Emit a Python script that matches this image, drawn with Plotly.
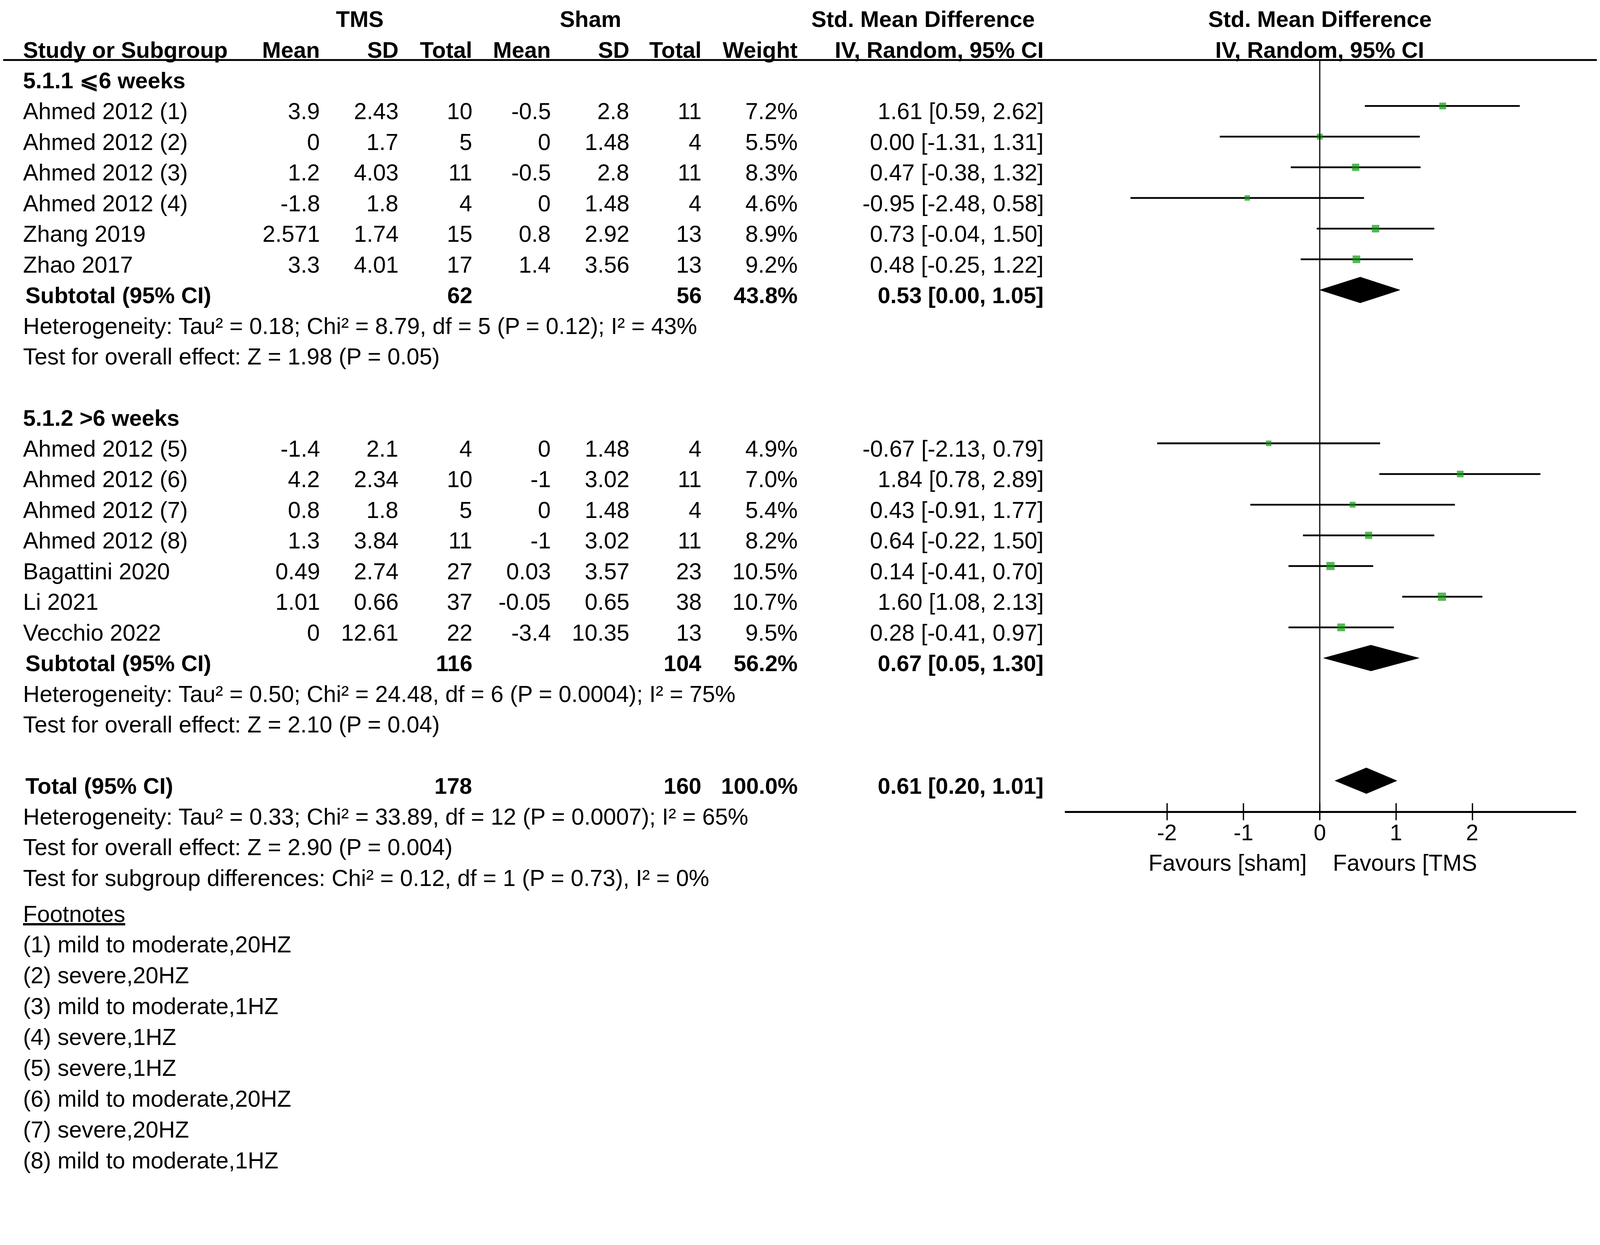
import math
import plotly.graph_objects as go

# ---------------- data ----------------
g1_study = ["Ahmed 2012 (1)", "Ahmed 2012 (2)", "Ahmed 2012 (3)", "Ahmed 2012 (4)", "Zhang 2019", "Zhao 2017"]
g1_tms_mean = [3.9, 0, 1.2, -1.8, 2.571, 3.3]
g1_tms_sd = [2.43, 1.7, 4.03, 1.8, 1.74, 4.01]
g1_tms_n = [10, 5, 11, 4, 15, 17]
g1_sham_mean = [-0.5, 0, -0.5, 0, 0.8, 1.4]
g1_sham_sd = [2.8, 1.48, 2.8, 1.48, 2.92, 3.56]
g1_sham_n = [11, 4, 11, 4, 13, 13]
g1_weight = [7.2, 5.5, 8.3, 4.6, 8.9, 9.2]
g1_smd = [1.61, 0.00, 0.47, -0.95, 0.73, 0.48]
g1_lo = [0.59, -1.31, -0.38, -2.48, -0.04, -0.25]
g1_hi = [2.62, 1.31, 1.32, 0.58, 1.50, 1.22]

g2_study = ["Ahmed 2012 (5)", "Ahmed 2012 (6)", "Ahmed 2012 (7)", "Ahmed 2012 (8)",
            "Bagattini 2020", "Li 2021", "Vecchio 2022"]
g2_tms_mean = [-1.4, 4.2, 0.8, 1.3, 0.49, 1.01, 0]
g2_tms_sd = [2.1, 2.34, 1.8, 3.84, 2.74, 0.66, 12.61]
g2_tms_n = [4, 10, 5, 11, 27, 37, 22]
g2_sham_mean = [0, -1, 0, -1, 0.03, -0.05, -3.4]
g2_sham_sd = [1.48, 3.02, 1.48, 3.02, 3.57, 0.65, 10.35]
g2_sham_n = [4, 11, 4, 11, 23, 38, 13]
g2_weight = [4.9, 7.0, 5.4, 8.2, 10.5, 10.7, 9.5]
g2_smd = [-0.67, 1.84, 0.43, 0.64, 0.14, 1.60, 0.28]
g2_lo = [-2.13, 0.78, -0.91, -0.22, -0.41, 1.08, -0.41]
g2_hi = [0.79, 2.89, 1.77, 1.50, 0.70, 2.13, 0.97]

subgroup_names = ["5.1.1 ⩽6 weeks", "5.1.2 >6 weeks"]
subtotal_tms_n = [62, 116]
subtotal_sham_n = [56, 104]
subtotal_weight = [43.8, 56.2]
subtotal_smd = [0.53, 0.67]
subtotal_lo = [0.00, 0.05]
subtotal_hi = [1.05, 1.30]
subgroup_het = ["Heterogeneity: Tau² = 0.18; Chi² = 8.79, df = 5 (P = 0.12); I² = 43%",
                "Heterogeneity: Tau² = 0.50; Chi² = 24.48, df = 6 (P = 0.0004); I² = 75%"]
subgroup_test = ["Test for overall effect: Z = 1.98 (P = 0.05)",
                 "Test for overall effect: Z = 2.10 (P = 0.04)"]

total_tms_n = 178
total_sham_n = 160
total_weight = 100.0
total_smd = 0.61
total_lo = 0.20
total_hi = 1.01
total_lines = ["Heterogeneity: Tau² = 0.33; Chi² = 33.89, df = 12 (P = 0.0007); I² = 65%",
               "Test for overall effect: Z = 2.90 (P = 0.004)",
               "Test for subgroup differences: Chi² = 0.12, df = 1 (P = 0.73), I² = 0%"]

footnotes = ["(1) mild to moderate,20HZ", "(2) severe,20HZ", "(3) mild to moderate,1HZ",
             "(4) severe,1HZ", "(5) severe,1HZ", "(6) mild to moderate,20HZ",
             "(7) severe,20HZ", "(8) mild to moderate,1HZ"]

header_top = ["TMS", "Sham", "Std. Mean Difference"]
header_cols = ["Study or Subgroup", "Mean", "SD", "Total", "Mean", "SD", "Total", "Weight",
               "IV, Random, 95% CI"]
axis_ticks = [-2, -1, 0, 1, 2]
favours = ["Favours [sham]", "Favours [TMS"]

# ---------------- layout constants ----------------
# layout is designed in reference-image pixels and converted to page pixels
S = 4317 / 4096.0      # screenshot px per CSS px
BODY = 8               # default page margin (CSS px)
FW, FH = 4080, 3008    # figure size in CSS px


def R(v):               # reference position -> figure position
    return v / S - BODY


def Z(v):               # reference size -> figure size
    return v / S


ROW0, STEP = 51.7, 82.75          # reference pixel centre of row 0 and row spacing
FONT = "Liberation Sans, Arial, sans-serif"
FS = Z(62)
FSB = Z(61)
GREEN = "#0f9a0f"


def px(x):
    return R(x) / FW


def ref_row(y):
    return (y - ROW0) / STEP


Y_TOP = ref_row(S * BODY)
Y_BOT = ref_row(S * (FH + BODY))
AXIS_Y = 2190
AXIS_ROW = ref_row(AXIS_Y)
HEADER_LINE_ROW = ref_row(162)
MARK_OFF = -0.17
DIAMOND_H = 0.42

COL_X = {"study": px(60), "m1": px(865), "sd1": px(1077), "n1": px(1276),
         "m2": px(1488), "sd2": px(1700), "n2": px(1895), "w": px(2154), "ci": px(2818)}

ann = []


def txt(x, row, s, anchor="right", bold=False, xref="paper", size=None, xshift=0):
    if size is None:
        size = FSB if bold else FS
    ann.append(dict(x=x, y=row, xref=xref, yref="y", text=("<b>%s</b>" % s) if bold else s,
                    xanchor=anchor, yanchor="middle", showarrow=False, xshift=xshift,
                    font=dict(family=FONT, size=size, color="#000")))


def num(v):
    return str(v)


def ci_text(e, lo, hi):
    return "%.2f [%.2f, %.2f]" % (e, lo, hi)


# header rows
txt(px(971), 0, header_top[0], "center", True)
txt(px(1594), 0, header_top[1], "center", True)
txt(px(2491), 0, header_top[2], "center", True)
txt(0, 0, header_top[2], "center", True, xref="x")
txt(COL_X["study"], 1, header_cols[0], "left", True)
for key, lab in zip(["m1", "sd1", "n1", "m2", "sd2", "n2", "w", "ci"], header_cols[1:]):
    txt(COL_X[key], 1, lab, "right", True)
txt(0, 1, header_cols[8], "center", True, xref="x")

groups = [
    (g1_study, g1_tms_mean, g1_tms_sd, g1_tms_n, g1_sham_mean, g1_sham_sd, g1_sham_n,
     g1_weight, g1_smd, g1_lo, g1_hi),
    (g2_study, g2_tms_mean, g2_tms_sd, g2_tms_n, g2_sham_mean, g2_sham_sd, g2_sham_n,
     g2_weight, g2_smd, g2_lo, g2_hi),
]

ci_x, ci_y = [], []
mk_x, mk_y, mk_s = [], [], []
diamonds = []

row = 2
for gi, g in enumerate(groups):
    st, m1, s1, n1, m2, s2, n2, w, e, lo, hi = g
    txt(COL_X["study"], row, subgroup_names[gi], "left", True)
    row += 1
    for i in range(len(st)):
        txt(COL_X["study"], row, st[i], "left")
        txt(COL_X["m1"], row, num(m1[i]))
        txt(COL_X["sd1"], row, num(s1[i]))
        txt(COL_X["n1"], row, num(n1[i]))
        txt(COL_X["m2"], row, num(m2[i]))
        txt(COL_X["sd2"], row, num(s2[i]))
        txt(COL_X["n2"], row, num(n2[i]))
        txt(COL_X["w"], row, "%.1f%%" % w[i])
        txt(COL_X["ci"], row, ci_text(e[i], lo[i], hi[i]))
        ci_x += [lo[i], hi[i], None]
        ci_y += [row + MARK_OFF, row + MARK_OFF, None]
        mk_x.append(e[i])
        mk_y.append(row + MARK_OFF)
        mk_s.append(Z(6.8 * math.sqrt(w[i])))
        row += 1
    txt(COL_X["study"], row, "Subtotal (95% CI)", "left", True, xshift=Z(6))
    txt(COL_X["n1"], row, num(subtotal_tms_n[gi]), bold=True)
    txt(COL_X["n2"], row, num(subtotal_sham_n[gi]), bold=True)
    txt(COL_X["w"], row, "%.1f%%" % subtotal_weight[gi], bold=True)
    txt(COL_X["ci"], row, ci_text(subtotal_smd[gi], subtotal_lo[gi], subtotal_hi[gi]), bold=True)
    diamonds.append((subtotal_lo[gi], subtotal_smd[gi], subtotal_hi[gi], row + MARK_OFF))
    row += 1
    txt(COL_X["study"], row, subgroup_het[gi], "left")
    row += 1
    txt(COL_X["study"], row, subgroup_test[gi], "left")
    row += 2

# total
txt(COL_X["study"], row, "Total (95% CI)", "left", True, xshift=Z(6))
txt(COL_X["n1"], row, num(total_tms_n), bold=True)
txt(COL_X["n2"], row, num(total_sham_n), bold=True)
txt(COL_X["w"], row, "%.1f%%" % total_weight, bold=True)
txt(COL_X["ci"], row, ci_text(total_smd, total_lo, total_hi), bold=True)
diamonds.append((total_lo, total_smd, total_hi, row + MARK_OFF))
row += 1
for line in total_lines:
    txt(COL_X["study"], row, line, "left")
    row += 1

# footnotes (slightly lower block)
foot_row = row + 0.17
txt(COL_X["study"], foot_row, "<u>Footnotes</u>", "left")
for j, f in enumerate(footnotes):
    txt(COL_X["study"], foot_row + 1 + j * 1.005, f, "left")

# favours labels
FAV_ROW = ref_row(2328)
txt(0, FAV_ROW, favours[0], "right", xref="x", xshift=-Z(33), size=Z(62))
txt(0, FAV_ROW, favours[1], "left", xref="x", xshift=Z(33), size=Z(62))

# tick labels (as annotations so their position can be matched)
TICK_ROW = ref_row(2246)
for t in axis_ticks:
    txt(t, TICK_ROW, str(t), "center", xref="x", size=Z(60))

fig = go.Figure()

# CI lines
fig.add_trace(go.Scatter(x=ci_x, y=ci_y, mode="lines", line=dict(color="#000", width=Z(4.8)),
                         hoverinfo="skip", showlegend=False))
# point estimates
fig.add_trace(go.Scatter(x=mk_x, y=mk_y, mode="markers",
                         marker=dict(symbol="square", size=mk_s, color=GREEN,
                                     line=dict(width=0)),
                         hoverinfo="skip", showlegend=False))
# diamonds
for lo, e, hi, r in diamonds:
    fig.add_trace(go.Scatter(x=[lo, e, hi, e, lo], y=[r, r - DIAMOND_H, r, r + DIAMOND_H, r],
                             mode="lines", fill="toself", fillcolor="#000",
                             line=dict(color="#000", width=1), hoverinfo="skip",
                             showlegend=False))
# tick marks crossing the axis line
tk_x, tk_y = [], []
for t in axis_ticks:
    tk_x += [t, t, None]
    tk_y += [ref_row(AXIS_Y - 23), ref_row(AXIS_Y + 23), None]
fig.add_trace(go.Scatter(x=tk_x, y=tk_y, mode="lines", line=dict(color="#000", width=Z(3.5)),
                         hoverinfo="skip", showlegend=False))

shapes = [
    dict(type="line", xref="paper", yref="y", x0=px(5), x1=px(4310),
         y0=HEADER_LINE_ROW, y1=HEADER_LINE_ROW, line=dict(color="#000", width=Z(5))),
    dict(type="line", xref="x", yref="y", x0=0, x1=0, y0=HEADER_LINE_ROW, y1=AXIS_ROW,
         line=dict(color="#000", width=Z(3))),
]

fig.update_layout(
    width=FW, height=FH, margin=dict(l=0, r=0, t=0, b=0),
    paper_bgcolor="white", plot_bgcolor="rgba(0,0,0,0)",
    showlegend=False, annotations=ann, shapes=shapes,
    xaxis=dict(domain=[px(2873), px(4253)], range=[-3.34, 3.36], anchor="free",
               position=1 - R(AXIS_Y) / FH, showline=True, linecolor="#000", linewidth=Z(5.5),
               tickvals=axis_ticks, showticklabels=False, ticks="",
               showgrid=False, zeroline=False, fixedrange=True),
    yaxis=dict(domain=[0, 1], range=[Y_BOT, Y_TOP], visible=False, showgrid=False,
               zeroline=False, fixedrange=True),
)

fig.write_html("out.html")
